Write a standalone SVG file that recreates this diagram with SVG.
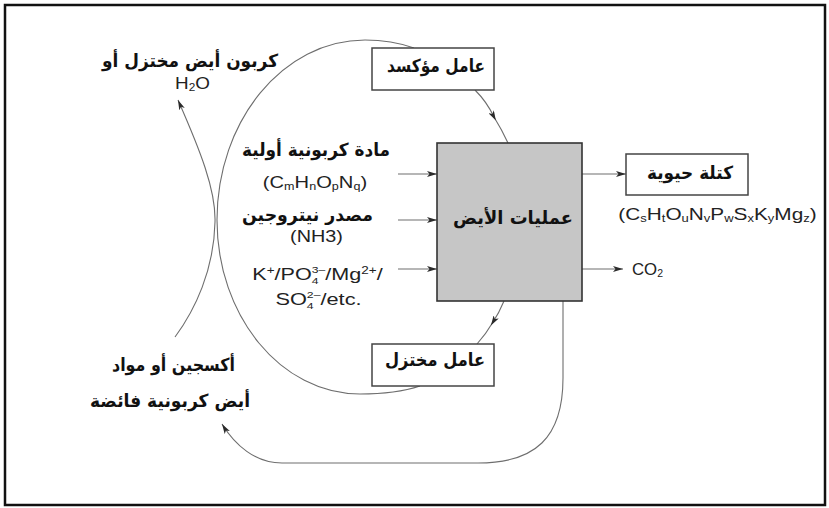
<svg xmlns="http://www.w3.org/2000/svg" width="829" height="508" viewBox="0 0 829 508">
<defs>
<style>
.ar{font-family:"DejaVu Sans","Noto Sans",sans-serif;font-weight:bold;font-size:18px;fill:#111;text-anchor:middle}
.la{font-family:"Liberation Sans",Arial,sans-serif;font-size:16px;fill:#222;text-anchor:middle}
.sm{font-size:10px}
.ss{font-size:9px}
.ln{fill:none;stroke:#6e6e6e;stroke-width:1.1}
.box{fill:#fff;stroke:#444;stroke-width:1.5}
</style>
<marker id="ah" viewBox="0 0 10 6" refX="10" refY="3" markerWidth="10" markerHeight="6" markerUnits="userSpaceOnUse" orient="auto">
<path d="M0,0 L10,3 L0,6 L2.5,3 z" fill="#2a2a2a"/>
</marker>
<marker id="am" viewBox="0 0 10 6" refX="6" refY="3" markerWidth="10" markerHeight="6" markerUnits="userSpaceOnUse" orient="auto">
<path d="M0,0 L10,3 L0,6 L2.5,3 z" fill="#2a2a2a"/>
</marker>
</defs>
<rect x="0" y="0" width="829" height="508" fill="#fff"/>
<rect x="5" y="5" width="820" height="500" fill="none" stroke="#111" stroke-width="2.5"/>

<g id="connectors">
<path class="ln" d="M414,48 C400,43 385,40 365,40 C283,40 217,121 217,220 C217,316 281,394 360,394 C385,394 405,391 420,386"/>
<path class="ln" d="M175,337 C195,310 214,270 215,222 C216,190 200,150 178,100" marker-end="url(#ah)"/>
<path class="ln" d="M475,90 Q487,102 494,117 Q502,130 508,143" marker-mid="url(#am)"/>
<path class="ln" d="M504,301 Q499,313 493,322 Q486,334 477,344" marker-mid="url(#am)"/>
<path class="ln" d="M563,301 L563,378 C563,438 535,463 478,463 L282,463 C255,463 235,445 222,424" marker-end="url(#ah)"/>
<path class="ln" d="M398,174 L437,174" marker-end="url(#ah)"/>
<path class="ln" d="M398,220 L437,220" marker-end="url(#ah)"/>
<path class="ln" d="M398,269 L437,269" marker-end="url(#ah)"/>
<path class="ln" d="M582,174 L626,174" marker-end="url(#ah)"/>
<path class="ln" d="M582,269 L623,269" marker-end="url(#ah)"/>
</g>

<g id="metabolism">
<rect x="437" y="143" width="145" height="158" fill="#c6c6c6" stroke="#333" stroke-width="1.6"/>
<text class="ar" x="513" y="224" font-size="19" textLength="120" lengthAdjust="spacingAndGlyphs">عمليات الأيض</text>
</g>

<g id="oxidizer">
<rect class="box" x="372" y="48" width="122" height="42"/>
<text class="ar" x="436" y="72" textLength="98" lengthAdjust="spacingAndGlyphs">عامل مؤكسد</text>
</g>

<g id="reducer">
<rect class="box" x="372" y="344" width="122" height="42"/>
<text class="ar" x="435" y="366" textLength="100" lengthAdjust="spacingAndGlyphs">عامل مختزل</text>
</g>

<g id="biomass">
<rect class="box" x="626" y="154" width="122" height="41"/>
<text class="ar" x="690" y="179" textLength="86" lengthAdjust="spacingAndGlyphs">كتلة حيوية</text>
<text class="la" transform="translate(717.5,220) scale(1.3,1)" x="0" y="0">(C<tspan class="sm" dy="2">s</tspan><tspan dy="-2">H</tspan><tspan class="sm" dy="2">t</tspan><tspan dy="-2">O</tspan><tspan class="sm" dy="2">u</tspan><tspan dy="-2">N</tspan><tspan class="sm" dy="2">v</tspan><tspan dy="-2">P</tspan><tspan class="sm" dy="2">w</tspan><tspan dy="-2">S</tspan><tspan class="sm" dy="2">x</tspan><tspan dy="-2">K</tspan><tspan class="sm" dy="2">y</tspan><tspan dy="-2">Mg</tspan><tspan class="sm" dy="2">z</tspan><tspan dy="-2">)</tspan></text>
</g>

<g id="co2">
<text class="la" transform="translate(632,275) scale(1.05,1)" x="0" y="0" style="text-anchor:start">CO<tspan class="sm" dy="2">2</tspan></text>
</g>

<g id="carbon-source">
<text class="ar" x="316" y="156" textLength="148" lengthAdjust="spacingAndGlyphs">مادة كربونية أولية</text>
<text class="la" transform="translate(315,188) scale(1.26,1)" x="0" y="0">(C<tspan class="sm" dy="2">m</tspan><tspan dy="-2">H</tspan><tspan class="sm" dy="2">n</tspan><tspan dy="-2">O</tspan><tspan class="sm" dy="2">p</tspan><tspan dy="-2">N</tspan><tspan class="sm" dy="2">q</tspan><tspan dy="-2">)</tspan></text>
</g>

<g id="nitrogen-source">
<text class="ar" x="307.5" y="221" textLength="131" lengthAdjust="spacingAndGlyphs">مصدر نيتروجين</text>
<text class="la" transform="translate(316.5,242) scale(1.24,1)" x="0" y="0">(NH3)</text>
</g>

<g id="minerals">
<text class="la" transform="translate(317.5,280) scale(1.35,1)" x="0" y="0">K<tspan class="sm" dy="-6">+</tspan><tspan dy="6">/PO</tspan><tspan class="ss" dy="-7">3–</tspan><tspan class="ss" dx="-10" dy="11">4</tspan><tspan dx="5" dy="-4">/Mg</tspan><tspan class="sm" dy="-6">2+</tspan><tspan dy="6">/</tspan></text>
<text class="la" transform="translate(318.5,305) scale(1.36,1)" x="0" y="0">SO<tspan class="ss" dy="-7">2–</tspan><tspan class="ss" dx="-10" dy="11">4</tspan><tspan dx="5" dy="-4">/etc.</tspan></text>
</g>

<g id="reduced-product">
<text class="ar" x="190" y="67" textLength="176" lengthAdjust="spacingAndGlyphs">كربون أيض مختزل أو</text>
<text class="la" transform="translate(192.5,89) scale(1.18,1)" x="0" y="0">H<tspan class="sm" dy="2">2</tspan><tspan dy="-2">O</tspan></text>
</g>

<g id="oxidized-input">
<text class="ar" x="173.5" y="371" textLength="123" lengthAdjust="spacingAndGlyphs">أكسجين أو مواد</text>
<text class="ar" x="170" y="407" textLength="160" lengthAdjust="spacingAndGlyphs">أيض كربونية فائضة</text>
</g>
</svg>
